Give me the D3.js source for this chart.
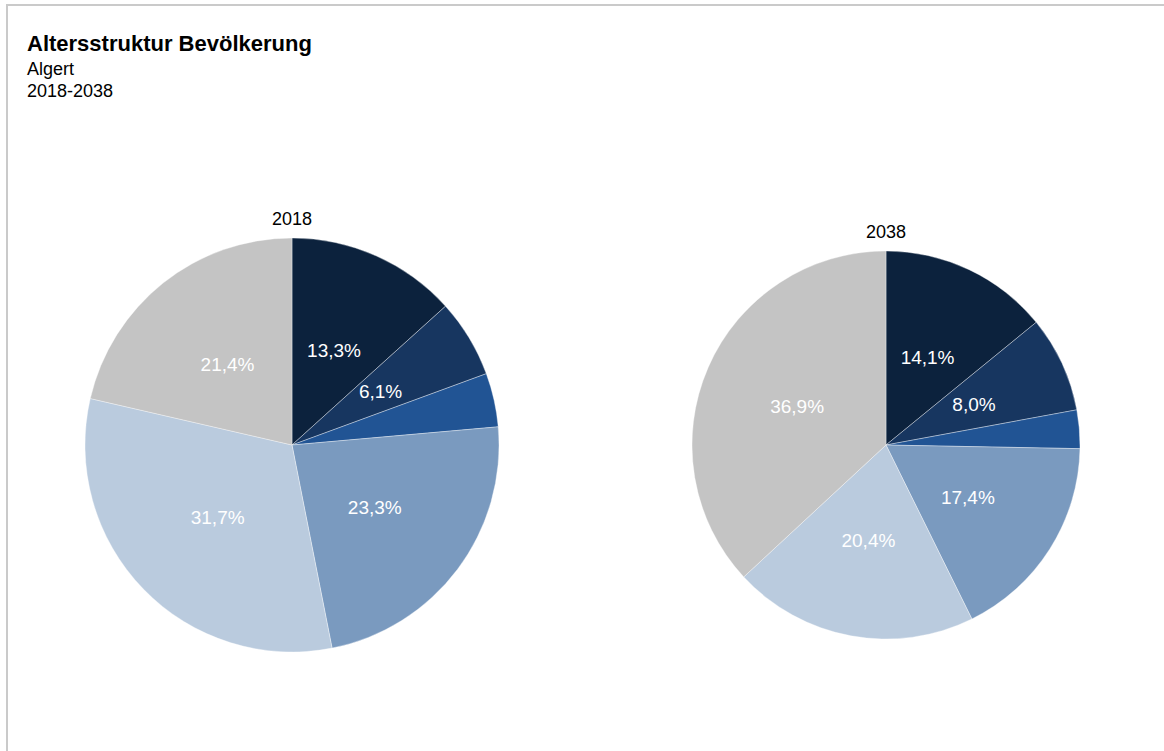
<!DOCTYPE html>
<html>
<head>
<meta charset="utf-8">
<script src="https://cdn.jsdelivr.net/npm/d3@7"></script>
<style>
  body { margin: 0; background: #fff; }
  svg { display: block; font-family: "Liberation Sans", Arial, Helvetica, sans-serif; }
</style>
</head>
<body>
<div id="chart"></div>
<script>
// age groups (youngest -> oldest), shares in percent
const groups = ["0-5", "6-9", "10-15", "16-19", "20-66", "67+"];
const years = ["2018", "2038"];
const shares2018 = [13.3, 6.1, 4.2, 23.3, 31.7, 21.4];
const shares2038 = [14.1, 8.0, 3.2, 17.4, 20.4, 36.9];
const colours = ["#0c223d", "#173660", "#215494", "#7a9abf", "#bacbde", "#c4c4c4"];

const width = 1164;
const height = 751;

const svg = d3.select("#chart")
    .append("svg")
    .attr("width", width)
    .attr("height", height);

// frame lines top + left
svg.append("line")
    .attr("x1", 6).attr("x2", width)
    .attr("y1", 5).attr("y2", 5)
    .attr("stroke", "#cacaca").attr("stroke-width", 2);
svg.append("line")
    .attr("x1", 7).attr("x2", 7)
    .attr("y1", 4).attr("y2", height)
    .attr("stroke", "#cacaca").attr("stroke-width", 2);

svg.append("text")
    .attr("x", 27).attr("y", 51)
    .attr("font-size", "22px")
    .attr("font-weight", "bold")
    .text("Altersstruktur Bevölkerung");
svg.append("text")
    .attr("x", 27).attr("y", 75)
    .attr("font-size", "18px")
    .text("Algert");
svg.append("text")
    .attr("x", 27).attr("y", 97)
    .attr("font-size", "18px")
    .text("2018-2038");

const pies = [
    {year: years[0], data: shares2018, cx: 292, cy: 445, r: 207},
    {year: years[1], data: shares2038, cx: 886, cy: 445, r: 194}
];

const pie = d3.pie().sort(null).value(d => d);
const fmt = v => d3.format(".1f")(v).replace(".", ",") + "%";

pies.forEach(p => {
    const g = svg.append("g")
        .attr("transform", `translate(${p.cx},${p.cy})`);
    const arc = d3.arc().innerRadius(0).outerRadius(p.r);
    const arcs = pie(p.data);

    g.selectAll("path")
        .data(arcs)
        .join("path")
            .attr("d", arc)
            .attr("fill", (d, i) => colours[i])
            .attr("stroke", "rgba(255,255,255,0.6)")
            .attr("stroke-width", 0.6);

    // small slices (<5%) stay without label
    g.selectAll("text.val")
        .data(arcs.filter(d => d.data >= 5))
        .join("text")
            .attr("class", "val")
            .attr("transform", d => `translate(${arc.centroid(d)})`)
            .attr("text-anchor", "middle")
            .attr("dy", "0.35em")
            .attr("fill", "#fff")
            .attr("font-size", "19px")
            .text(d => fmt(d.data));

    g.append("text")
        .attr("x", 0)
        .attr("y", -p.r - 13)
        .attr("text-anchor", "middle")
        .attr("font-size", "18px")
        .text(p.year);
});
</script>
</body>
</html>
